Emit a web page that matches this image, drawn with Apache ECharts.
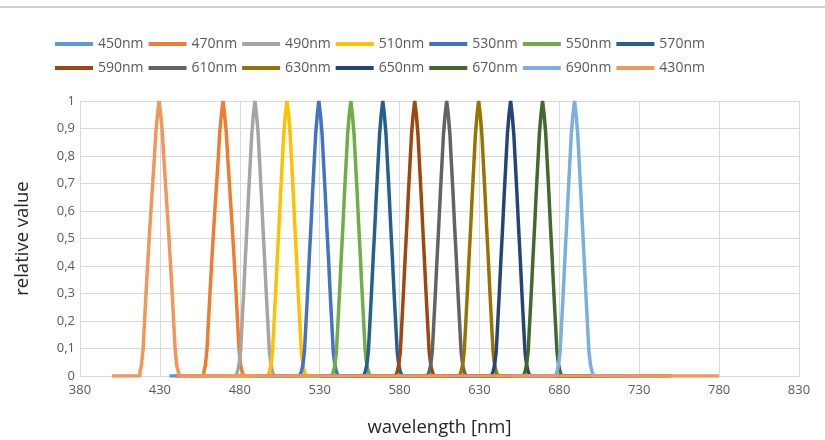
<!DOCTYPE html>
<html>
<head>
<meta charset="utf-8">
<script src="https://cdn.jsdelivr.net/npm/echarts@6/dist/echarts.min.js"></script>
<style>html,body{margin:0;padding:0;background:#fff}#c{width:825px;height:440px}</style>
</head>
<body>
<div id="c"></div>
<script>
// ---- data ----
const seriesNames = ['450nm','470nm','490nm','510nm','530nm','550nm','570nm','590nm','610nm','630nm','650nm','670nm','690nm','430nm'];
const colors = ['#5B9BD5','#ED7D31','#A5A5A5','#FFC000','#4472C4','#70AD47','#255E91','#9E480E','#636363','#997300','#264478','#43682B','#7CAFDD','#F1975A'];
const centers = [450,470,490,510,530,550,570,590,610,630,650,670,690,430];
// wavelength offsets (nm) of the sampled points around each centre
const offsets = [-14,-13,-12,-11,-10,-9,-8,-7,-6,-5,-4,-3,-2,-1,0,1,2,3,4,5,6,7,8,9,10,11,12,13,14];
// relative values
const v450 = [0,0,0,0,0,0,0,0,0,0,0,0,0,0,0,0,0,0,0,0,0,0,0,0,0,0,0,0,0];
const v470 = [0,0,0.015,0.04,0.10,0.21,0.32,0.42,0.52,0.61,0.70,0.79,0.89,0.95,1,0.95,0.89,0.79,0.70,0.61,0.52,0.42,0.32,0.21,0.10,0.04,0.015,0,0];
const v490 = [0,0,0,0.015,0.04,0.09,0.20,0.31,0.43,0.54,0.66,0.77,0.88,0.95,1,0.95,0.88,0.77,0.66,0.54,0.43,0.31,0.20,0.09,0.04,0.015,0,0,0];
const v510 = [0,0,0,0.015,0.04,0.09,0.20,0.31,0.43,0.54,0.66,0.77,0.88,0.95,1,0.95,0.88,0.77,0.66,0.54,0.43,0.31,0.20,0.09,0.04,0.015,0,0,0];
const v530 = [0,0,0,0.015,0.04,0.09,0.20,0.31,0.43,0.54,0.66,0.77,0.88,0.95,1,0.95,0.88,0.77,0.66,0.54,0.43,0.31,0.20,0.09,0.04,0.015,0,0,0];
const v550 = [0,0,0,0.015,0.04,0.09,0.20,0.31,0.43,0.54,0.66,0.77,0.88,0.95,1,0.95,0.88,0.77,0.66,0.54,0.43,0.31,0.20,0.09,0.04,0.015,0,0,0];
const v570 = [0,0,0,0.015,0.04,0.09,0.20,0.31,0.43,0.54,0.66,0.77,0.88,0.95,1,0.95,0.88,0.77,0.66,0.54,0.43,0.31,0.20,0.09,0.04,0.015,0,0,0];
const v590 = [0,0,0,0.015,0.04,0.09,0.20,0.31,0.43,0.54,0.66,0.77,0.88,0.95,1,0.95,0.88,0.77,0.66,0.54,0.43,0.31,0.20,0.09,0.04,0.015,0,0,0];
const v610 = [0,0,0,0.015,0.04,0.09,0.20,0.31,0.43,0.54,0.66,0.77,0.88,0.95,1,0.95,0.88,0.77,0.66,0.54,0.43,0.31,0.20,0.09,0.04,0.015,0,0,0];
const v630 = [0,0,0,0.015,0.04,0.09,0.20,0.31,0.43,0.54,0.66,0.77,0.88,0.95,1,0.95,0.88,0.77,0.66,0.54,0.43,0.31,0.20,0.09,0.04,0.015,0,0,0];
const v650 = [0,0,0,0.015,0.04,0.09,0.20,0.31,0.43,0.54,0.66,0.77,0.88,0.95,1,0.95,0.88,0.77,0.66,0.54,0.43,0.31,0.20,0.09,0.04,0.015,0,0,0];
const v670 = [0,0,0,0.015,0.04,0.09,0.20,0.31,0.43,0.54,0.66,0.77,0.88,0.95,1,0.95,0.88,0.77,0.66,0.54,0.43,0.31,0.20,0.09,0.04,0.015,0,0,0];
const v690 = [0,0,0,0.015,0.04,0.09,0.20,0.31,0.43,0.54,0.66,0.77,0.88,0.95,1,0.95,0.88,0.77,0.66,0.54,0.43,0.31,0.20,0.09,0.04,0.015,0,0,0];
const v430 = [0,0,0.015,0.04,0.10,0.21,0.32,0.42,0.52,0.61,0.70,0.79,0.89,0.95,1,0.95,0.89,0.79,0.70,0.61,0.52,0.42,0.32,0.21,0.10,0.04,0.015,0,0];
const values = [v450,v470,v490,v510,v530,v550,v570,v590,v610,v630,v650,v670,v690,v430];
// extent of each recorded spectrum (zero outside the peak)
const zeroStart = [440,440,455,470,490,510,530,550,570,590,610,630,650,400];
const zeroEnd   = [500,520,540,560,600,620,640,750,700,710,720,725,728,780];
const xTicks = [380,430,480,530,580,630,680,730,780,830];

// ---- build ----
const FONT = '"Open Sans", "Noto Sans", sans-serif';
const series = seriesNames.map((name, i) => {
  const pts = [[zeroStart[i], 0]];
  offsets.forEach((o, k) => pts.push([centers[i] + o, values[i][k]]));
  pts.push([zeroEnd[i], 0]);
  return {
    name, type: 'line', data: pts, step: 'middle', showSymbol: false, symbol: 'none',
    lineStyle: { color: colors[i], width: 3.5 }, itemStyle: { color: colors[i] },
    emphasis: { disabled: true }, animation: false
  };
});
const legendBase = {
  left: 50, orient: 'horizontal', icon: 'rect', itemWidth: 38, itemHeight: 4, itemGap: 5,
  textStyle: { fontFamily: FONT, fontSize: 14, color: '#595959', width: 55 },
  selectedMode: false
};
const chart = echarts.init(document.getElementById('c'), null, { renderer: 'canvas' });
chart.setOption({
  animation: false,
  color: colors,
  legend: [
    Object.assign({}, legendBase, { top: 32, data: seriesNames.slice(0, 7) }),
    Object.assign({}, legendBase, { top: 56, data: seriesNames.slice(7) })
  ],
  graphic: [{ type: 'line', shape: { x1: 0, y1: 7, x2: 825, y2: 7 }, style: { stroke: '#d0d0d0', lineWidth: 2 } }],
  grid: { left: 80, right: 26, top: 101, bottom: 64, containLabel: false, outerBoundsMode: 'none' },
  xAxis: {
    type: 'value', min: xTicks[0], max: xTicks[xTicks.length - 1], interval: 50,
    name: 'wavelength [nm]', nameLocation: 'middle', nameGap: 42,
    nameTextStyle: { fontFamily: FONT, fontSize: 18.5, color: '#262626' },
    axisLine: { lineStyle: { color: '#d9d9d9' } }, axisTick: { show: false },
    axisLabel: { fontFamily: FONT, fontSize: 13, color: '#595959', margin: 8 },
    splitLine: { show: true, lineStyle: { color: '#d9d9d9' } }
  },
  yAxis: {
    type: 'value', min: 0, max: 1, interval: 0.1,
    name: 'relative value', nameLocation: 'middle', nameGap: 48, nameRotate: 90,
    nameTextStyle: { fontFamily: FONT, fontSize: 18.5, color: '#262626' },
    axisLine: { show: false }, axisTick: { show: false },
    axisLabel: { fontFamily: FONT, fontSize: 13, color: '#595959', margin: 5,
      formatter: v => String(Math.round(v * 10) / 10).replace('.', ',') },
    splitLine: { show: true, lineStyle: { color: '#d9d9d9' } }
  },
  series
});
</script>
</body>
</html>
